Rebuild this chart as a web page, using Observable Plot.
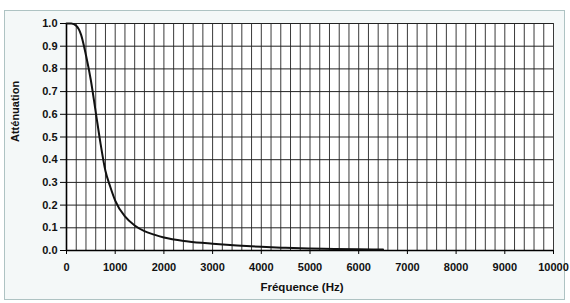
<!DOCTYPE html>
<html>
<head>
<meta charset="utf-8">
<script src="https://cdn.jsdelivr.net/npm/d3@7"></script>
<script src="https://cdn.jsdelivr.net/npm/@observablehq/plot@0.6"></script>
<style>
  html, body { margin: 0; padding: 0; background: #ffffff; }
  #wrap { position: relative; width: 570px; height: 303px; overflow: hidden; }
  #border { position: absolute; left: 4px; top: 10px; width: 561px; height: 290px;
            border: 1px solid #aec3c3; background: #f4f8f8; box-sizing: border-box; }
  #chart { position: absolute; left: 0; top: 0; }
</style>
</head>
<body>
<div id="wrap"><div id="border"></div><div id="chart"></div></div>
<script>
// Frequency (Hz) and attenuation values
const freq = [0, 100, 200, 300, 400, 500, 600, 700, 800, 900, 1000, 1200, 1400, 1600, 1800, 2000, 2500, 3000, 3500, 4000, 4500, 5000, 5500, 6000, 6500];
const atten = [1.0, 1.0, 0.99, 0.95, 0.86, 0.75, 0.61, 0.47, 0.35, 0.28, 0.22, 0.15, 0.11, 0.085, 0.07, 0.057, 0.04, 0.03, 0.022, 0.016, 0.012, 0.009, 0.007, 0.005, 0.004];
const xTicks = [0, 1000, 2000, 3000, 4000, 5000, 6000, 7000, 8000, 9000, 10000];
const yTicks = [0, 0.1, 0.2, 0.3, 0.4, 0.5, 0.6, 0.7, 0.8, 0.9, 1.0];
const xGrid = d3.range(0, 10001, 200);
const xLabel = "Fréquence (Hz)";
const yLabel = "Atténuation";

const data = freq.map((f, i) => ({f, a: atten[i]}));
const font = "'Liberation Sans', Arial, sans-serif";

const chart = Plot.plot({
  width: 570,
  height: 303,
  marginLeft: 66,
  marginRight: 17,
  marginTop: 23,
  marginBottom: 53,
  style: {background: "transparent", fontFamily: font, fontSize: "11px", fontWeight: "bold", color: "#111"},
  x: {domain: [0, 10000]},
  y: {domain: [0, 1]},
  marks: [
    Plot.frame({fill: "white", stroke: null}),
    Plot.ruleX(xGrid, {stroke: "#3a3a3a", strokeWidth: 1}),
    Plot.ruleY(yTicks, {stroke: "#222", strokeWidth: 1}),
    Plot.ruleX([0], {stroke: "#000", strokeWidth: 1.6}),
    Plot.ruleY([0], {stroke: "#000", strokeWidth: 1.6}),
    Plot.line(data, {x: "f", y: "a", stroke: "#111", strokeWidth: 2, curve: "monotone-x"}),
    Plot.axisY({ticks: yTicks, tickFormat: d3.format(".1f"), tickSize: 6, tickPadding: 3, label: null, fontWeight: "bold", fontSize: 11, stroke: "#000"}),
    Plot.axisX({ticks: xTicks, tickFormat: d3.format("d"), tickSize: 4, tickPadding: 9, label: null, fontWeight: "bold", fontSize: 11, stroke: "#000"}),
    Plot.text([yLabel], {frameAnchor: "left", dx: -51, dy: 5, rotate: -90, fontWeight: "bold", fontSize: 11, fill: "#111"}),
    Plot.text([xLabel], {frameAnchor: "bottom", dx: -8, dy: 40, fontWeight: "bold", fontSize: 11.5, fill: "#111"})
  ]
});
document.getElementById("chart").appendChild(chart);
</script>
</body>
</html>
